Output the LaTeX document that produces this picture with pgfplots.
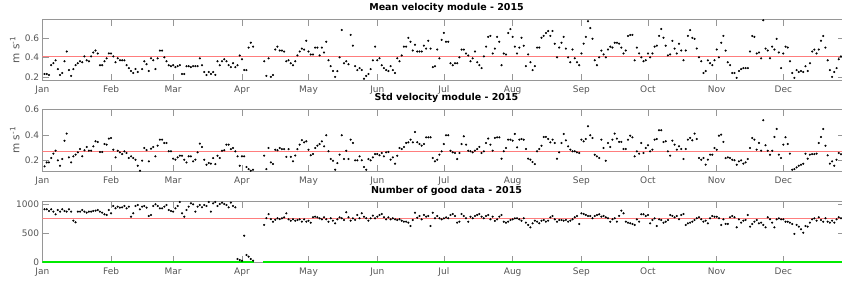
\documentclass[border=0pt]{standalone}
\usepackage{fontspec}
\setmainfont{DejaVu Sans}
\usepackage{pgfplots}
\usepackage{pgfplotstable}
\pgfplotsset{compat=1.18}
\definecolor{axgray}{RGB}{150,150,150}
\definecolor{lblgray}{RGB}{85,85,85}
\definecolor{meanred}{RGB}{255,125,125}
\definecolor{greenl}{RGB}{0,235,0}

% Mean velocity module, days 1..360 (nan = no data)
\pgfplotstableread[row sep=\\]{
v\\
0.23\\0.23\\0.22\\0.32\\0.34\\0.37\\0.28\\0.22\\0.24\\0.36\\
0.46\\0.27\\0.21\\0.28\\0.32\\0.34\\0.36\\0.35\\0.41\\0.37\\
0.36\\0.41\\0.45\\0.47\\0.44\\0.32\\0.32\\0.36\\0.39\\
0.44\\0.44\\0.41\\0.35\\0.39\\0.37\\0.37\\0.37\\0.32\\0.29\\
0.26\\0.24\\0.28\\0.25\\0.16\\0.28\\0.36\\0.33\\0.26\\0.39\\
0.37\\0.28\\0.39\\0.47\\0.47\\0.40\\0.36\\0.32\\0.31\\
0.32\\0.30\\0.31\\0.32\\0.23\\0.23\\0.31\\0.31\\0.30\\0.31\\
0.31\\0.31\\0.39\\0.32\\0.25\\0.22\\0.25\\0.23\\0.25\\0.22\\
0.36\\0.32\\0.36\\0.38\\0.36\\0.32\\0.30\\0.34\\0.30\\0.32\\
0.42\\0.38\\0.27\\0.27\\0.50\\0.55\\0.51\\
nan\\nan\\nan\\nan\\
0.36\\0.21\\0.39\\0.20\\0.22\\0.48\\0.51\\0.47\\
0.47\\0.46\\0.36\\0.37\\0.34\\0.32\\0.36\\0.42\\
0.46\\0.49\\0.48\\0.57\\0.46\\0.43\\0.43\\0.50\\0.50\\0.42\\
0.50\\0.45\\0.56\\0.37\\0.31\\0.26\\0.20\\0.26\\0.40\\0.68\\
0.34\\0.36\\0.33\\0.63\\0.52\\0.31\\0.27\\0.29\\0.27\\0.18\\
0.21\\0.23\\0.28\\0.37\\0.51\\
0.37\\0.39\\0.32\\0.29\\0.27\\0.26\\0.31\\0.27\\0.24\\0.39\\
0.36\\0.42\\0.51\\0.51\\0.60\\0.56\\0.47\\0.53\\0.46\\0.46\\
0.46\\0.52\\0.49\\0.57\\0.49\\0.30\\0.31\\0.48\\0.39\\0.58\\
0.65\\0.56\\0.56\\0.34\\0.32\\0.34\\0.34\\0.40\\0.48\\0.48\\
0.44\\0.42\\0.36\\0.39\\0.46\\0.35\\0.32\\0.29\\0.41\\0.51\\
0.61\\0.62\\0.44\\0.49\\0.61\\0.56\\0.32\\0.44\\0.43\\0.65\\
0.69\\0.61\\0.51\\0.44\\0.50\\0.60\\0.52\\0.31\\0.43\\0.35\\
0.27\\0.31\\0.50\\0.50\\0.60\\0.62\\0.65\\0.67\\0.62\\0.67\\
0.54\\0.40\\0.50\\0.55\\0.61\\0.49\\0.40\\0.35\\0.48\\0.39\\
0.35\\0.32\\0.44\\0.54\\0.61\\0.77\\0.70\\0.59\\0.37\\0.32\\
0.40\\0.47\\0.43\\0.40\\0.48\\0.51\\0.50\\0.55\\0.55\\0.54\\
0.50\\0.44\\0.47\\0.62\\0.63\\0.63\\0.37\\0.50\\0.44\\0.40\\
0.36\\0.37\\0.44\\0.40\\0.44\\0.51\\0.52\\0.62\\0.69\\0.60\\
0.52\\0.42\\0.43\\0.57\\0.49\\0.44\\0.54\\0.47\\0.37\\0.47\\
0.62\\0.68\\0.60\\0.59\\0.49\\0.40\\0.36\\0.24\\0.26\\0.37\\
0.34\\0.32\\0.37\\0.48\\0.40\\0.55\\0.62\\0.47\\0.35\\0.32\\
0.24\\0.24\\0.19\\0.26\\0.28\\0.29\\0.29\\0.29\\0.46\\0.62\\
0.61\\0.44\\0.45\\0.39\\0.78\\0.49\\0.47\\0.39\\0.51\\0.48\\
0.59\\0.45\\0.29\\0.44\\0.51\\0.50\\0.36\\0.24\\0.19\\0.27\\
0.25\\0.26\\0.25\\0.31\\0.26\\0.34\\0.46\\0.48\\0.44\\0.48\\
0.57\\0.62\\0.50\\0.37\\0.27\\0.20\\0.25\\0.29\\0.38\\0.41\\
}\meanvel

% Std velocity module, days 1..360
\pgfplotstableread[row sep=\\]{
v\\
0.156\\0.187\\0.187\\0.221\\0.255\\0.278\\0.203\\0.161\\0.213\\0.356\\
0.411\\0.226\\0.187\\0.234\\0.247\\0.265\\0.291\\0.234\\0.281\\0.307\\
0.278\\0.278\\0.312\\0.351\\0.346\\0.268\\0.268\\0.330\\0.325\\0.372\\
0.377\\0.286\\0.226\\0.278\\0.265\\0.252\\0.273\\0.260\\0.221\\0.234\\
0.221\\0.208\\0.161\\0.122\\0.200\\0.299\\0.283\\0.195\\0.294\\0.307\\
0.234\\0.317\\0.364\\0.364\\0.338\\0.338\\0.273\\0.273\\0.216\\0.208\\
0.226\\0.239\\0.239\\0.208\\0.187\\0.234\\0.234\\0.195\\0.208\\0.265\\
0.333\\0.307\\0.208\\0.169\\0.182\\0.177\\0.221\\0.174\\0.239\\0.221\\
0.278\\0.281\\0.325\\0.325\\0.291\\0.299\\0.273\\0.234\\0.161\\0.234\\
0.234\\0.151\\0.135\\0.122\\0.130\\
nan\\nan\\nan\\nan\\
0.239\\0.135\\0.299\\0.187\\0.174\\0.286\\0.281\\0.299\\
0.29\\0.29\\0.23\\0.29\\0.23\\0.195\\0.24\\0.29\\0.325\\0.36\\
0.343\\0.351\\0.286\\0.242\\0.252\\0.299\\0.317\\0.33\\0.351\\0.312\\
0.398\\0.273\\0.213\\0.2\\0.13\\0.182\\0.247\\0.398\\0.213\\0.278\\
0.213\\0.364\\0.338\\0.203\\0.203\\0.234\\0.203\\0.151\\0.13\\0.213\\
0.203\\0.226\\0.252\\0.252\\0.242\\0.26\\0.234\\0.265\\0.268\\0.208\\
0.226\\0.177\\0.239\\0.299\\0.291\\0.307\\0.338\\0.343\\0.364\\0.343\\
0.424\\0.343\\0.33\\0.317\\0.33\\0.382\\0.382\\0.382\\0.221\\0.195\\
0.208\\0.247\\0.273\\0.33\\0.398\\0.398\\0.278\\0.265\\0.26\\0.213\\
0.26\\0.33\\0.39\\0.325\\0.278\\0.273\\0.265\\0.278\\0.291\\0.307\\
0.26\\0.273\\0.338\\0.372\\0.325\\0.278\\0.377\\0.382\\0.382\\0.216\\
0.273\\0.299\\0.364\\0.364\\0.356\\0.408\\0.304\\0.364\\0.369\\0.364\\
0.291\\0.216\\0.208\\0.19\\0.174\\0.273\\0.291\\0.317\\0.385\\0.385\\
0.369\\0.343\\0.364\\0.338\\0.216\\0.265\\
0.338\\0.408\\0.359\\0.312\\0.286\\0.273\\0.273\\0.265\\0.26\\0.364\\
0.351\\0.369\\0.468\\0.398\\0.377\\0.247\\0.234\\0.221\\0.364\\0.299\\
0.2\\0.338\\0.307\\0.364\\0.411\\0.372\\0.346\\0.346\\0.291\\0.291\\
0.364\\0.395\\0.382\\0.234\\0.273\\0.255\\0.338\\0.26\\0.299\\0.32\\
0.273\\0.286\\0.364\\0.369\\0.437\\0.437\\0.346\\0.351\\0.273\\0.239\\
0.356\\0.325\\0.286\\0.312\\0.291\\0.213\\0.291\\0.364\\0.377\\0.359\\
0.411\\0.369\\0.221\\0.208\\0.221\\0.169\\0.208\\0.247\\0.247\\0.299\\
0.286\\0.395\\0.403\\0.346\\0.221\\0.226\\0.221\\0.208\\0.203\\0.169\\
0.195\\0.203\\0.177\\0.187\\0.213\\0.299\\0.377\\0.364\\0.286\\0.338\\
0.278\\0.515\\0.32\\0.278\\0.247\\0.278\\0.385\\0.447\\0.247\\0.221\\
0.325\\0.382\\0.33\\0.255\\0.13\\0.135\\0.148\\0.161\\0.169\\0.177\\
0.255\\0.216\\0.247\\0.252\\0.252\\0.255\\0.338\\0.385\\0.447\\0.317\\
0.242\\0.177\\0.195\\0.161\\0.208\\0.26\\0.25\\
}\stdvel

% Number of good data, days 1..360
\pgfplotstableread[row sep=\\]{
v\\
914\\914\\885\\914\\874\\828\\902\\874\\914\\885\\
874\\914\\874\\718\\690\\874\\874\\902\\874\\856\\
874\\874\\885\\891\\902\\874\\856\\828\\816\\902\\
845\\971\\931\\960\\943\\948\\971\\931\\960\\787\\
845\\971\\988\\914\\960\\971\\943\\799\\816\\971\\
1000\\971\\931\\931\\960\\988\\902\\885\\874\\931\\
971\\1040\\845\\787\\902\\960\\1017\\1000\\874\\960\\
988\\948\\988\\971\\1040\\874\\1017\\1040\\971\\1006\\
1029\\1006\\988\\948\\1029\\971\\948\\
57\\40\\28\\459\\126\\97\\57\\28\\
nan\\nan\\nan\\nan\\
645\\760\\830\\745\\700\\735\\760\\745\\
759\\776\\845\\741\\718\\741\\718\\730\\741\\701\\
741\\701\\718\\684\\776\\787\\776\\759\\741\\776\\
741\\701\\759\\718\\672\\741\\776\\759\\730\\862\\
776\\718\\759\\730\\816\\759\\845\\787\\759\\718\\
759\\805\\759\\787\\816\\833\\776\\741\\776\\741\\
759\\741\\730\\741\\718\\701\\701\\684\\626\\730\\
856\\770\\799\\741\\816\\787\\799\\626\\856\\759\\
799\\759\\741\\759\\776\\759\\816\\833\\799\\684\\
701\\833\\799\\759\\701\\787\\759\\799\\816\\833\\
787\\759\\799\\816\\741\\787\\713\\741\\787\\816\\
701\\684\\701\\730\\741\\759\\759\\741\\718\\759\\
684\\644\\603\\672\\718\\701\\672\\718\\730\\701\\
718\\776\\799\\741\\701\\730\\
730\\718\\730\\701\\718\\741\\776\\799\\661\\845\\
833\\816\\799\\799\\759\\799\\816\\828\\787\\799\\
776\\759\\701\\741\\759\\701\\799\\891\\845\\701\\
684\\672\\661\\644\\741\\701\\828\\828\\799\\816\\
672\\730\\759\\626\\741\\730\\684\\701\\730\\816\\
799\\776\\799\\741\\816\\833\\644\\672\\684\\701\\
730\\759\\776\\741\\701\\718\\672\\759\\799\\787\\
787\\759\\644\\741\\661\\661\\776\\799\\776\\603\\
741\\684\\718\\730\\816\\615\\661\\701\\730\\672\\
684\\644\\603\\776\\741\\684\\603\\741\\759\\741\\
741\\701\\701\\684\\661\\489\\644\\615\\569\\511\\
626\\615\\684\\741\\759\\718\\776\\730\\701\\759\\
701\\684\\718\\684\\741\\776\\759\\
}\gooddata

\pgfplotsset{
  panel/.style={
    scale only axis, width=802pt, anchor=south west,
    xmin=0, xmax=361.5,
    xtick={0,31,59,90,120,151,181,212,243,273,304,334},
    xticklabels={Jan,Feb,Mar,Apr,May,Jun,Jul,Aug,Sep,Oct,Nov,Dec},
    axis line style={draw=axgray, line width=0.6pt},
    tick style={draw=axgray, line width=0.6pt},
    major tick length=6.5pt,
    tick align=inside,
    ticklabel style={font=\fontsize{9}{10}\selectfont, text=lblgray},
    xticklabel style={anchor=base, yshift=-12pt, inner sep=0pt},
    yticklabel style={anchor=east, inner sep=0pt, xshift=-3pt},
    title style={at={(rel axis cs:0.504,1)}, anchor=base, yshift=2.6pt, inner sep=0pt, font=\bfseries\fontsize{9.5}{11}\selectfont},
    every axis y label/.style={at={(rel axis cs:0,0.5)}, xshift=-27.5pt, rotate=90, anchor=center, font=\fontsize{10.5}{12}\selectfont, text=lblgray},
  },
  daymarks/.style={only marks, mark=*, mark size=0.85pt, mark options={fill=black, draw=none}},
  meanline/.style={solid, mark=none, draw=meanred, line width=0.8pt},
}

\begin{document}
\begin{tikzpicture}
\useasboundingbox (0,0) rectangle (842pt,282pt);

\begin{axis}[panel, at={(42.3pt,201.7pt)}, height=61pt,
  ymin=0.165, ymax=0.79, ytick={0.2,0.4,0.6}, yticklabels={0.2,0.4,0.6},
  title={Mean velocity module - 2015}, ylabel={m s\textsuperscript{-1}}]
\addplot[daymarks] table[x expr=\coordindex+1, y=v] {\meanvel};
\addplot[meanline] coordinates {(0,0.405) (361.5,0.405)};
\end{axis}

\begin{axis}[panel, at={(42.3pt,111pt)}, height=61.7pt,
  ymin=0.12, ymax=0.6, ytick={0.2,0.4,0.6}, yticklabels={0.2,0.4,0.6},
  title={Std velocity module - 2015}, ylabel={m s\textsuperscript{-1}}]
\addplot[daymarks] table[x expr=\coordindex+1, y=v] {\stdvel};
\addplot[meanline] coordinates {(0,0.275) (361.5,0.275)};
\end{axis}

\begin{axis}[panel, at={(42.3pt,19.7pt)}, height=60.6pt,
  ymin=0, ymax=1045, ytick={0,500,1000}, yticklabels={0,500,1000},
  title={Number of good data - 2015}]
\addplot[greenl, mark=none, line width=2.2pt] coordinates {(0,0) (95.6,0)};
\addplot[greenl, mark=none, line width=2.2pt] coordinates {(99.5,0) (361.5,0)};
\addplot[daymarks] table[x expr=\coordindex+1, y=v] {\gooddata};
\addplot[meanline] coordinates {(0,759) (361.5,759)};
\end{axis}
\end{tikzpicture}
\end{document}
